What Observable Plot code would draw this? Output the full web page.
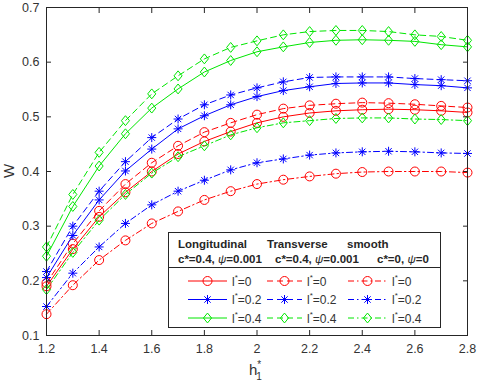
<!DOCTYPE html>
<html><head><meta charset="utf-8">
<script src="https://cdn.jsdelivr.net/npm/d3@7"></script>
<script src="https://cdn.jsdelivr.net/npm/@observablehq/plot@0.6"></script>
<style>body{margin:0;background:#fff;} svg{display:block;}</style>
</head><body><div id="chart"></div>
<script>
// ---- data ----
const hStar = [1.2,1.3,1.4,1.5,1.6,1.7,1.8,1.9,2.0,2.1,2.2,2.3,2.4,2.5,2.6,2.7,2.8];
const longitudinal_l0  = [0.190,0.258,0.317,0.362,0.400,0.432,0.455,0.473,0.489,0.500,0.507,0.511,0.513,0.514,0.513,0.511,0.508];
const transverse_l0    = [0.196,0.268,0.328,0.377,0.416,0.447,0.472,0.489,0.504,0.515,0.521,0.524,0.526,0.525,0.523,0.520,0.517];
const smooth_l0        = [0.139,0.192,0.238,0.274,0.305,0.327,0.348,0.364,0.377,0.385,0.391,0.396,0.399,0.400,0.400,0.400,0.398];
const longitudinal_l02 = [0.206,0.283,0.348,0.401,0.441,0.478,0.502,0.522,0.537,0.548,0.555,0.561,0.562,0.562,0.559,0.557,0.553];
const transverse_l02   = [0.217,0.300,0.364,0.418,0.462,0.496,0.522,0.540,0.553,0.564,0.572,0.573,0.573,0.573,0.570,0.568,0.566];
const smooth_l02       = [0.153,0.214,0.262,0.305,0.339,0.364,0.384,0.403,0.416,0.423,0.430,0.434,0.436,0.437,0.436,0.434,0.433];
const longitudinal_l04 = [0.245,0.336,0.410,0.469,0.516,0.551,0.582,0.603,0.619,0.628,0.636,0.640,0.641,0.640,0.638,0.632,0.628];
const transverse_l04   = [0.262,0.358,0.435,0.493,0.542,0.575,0.606,0.627,0.639,0.650,0.656,0.658,0.658,0.656,0.650,0.647,0.640];
const smooth_l04       = [0.184,0.252,0.311,0.358,0.397,0.427,0.447,0.467,0.480,0.489,0.493,0.497,0.498,0.498,0.496,0.495,0.493];

const xTicks = [1.2,1.4,1.6,1.8,2.0,2.2,2.4,2.6,2.8];
const xTickLabels = ["1.2","1.4","1.6","1.8","2","2.2","2.4","2.6","2.8"];
const yTicks = [0.1,0.2,0.3,0.4,0.5,0.6,0.7];
const yTickLabels = ["0.1","0.2","0.3","0.4","0.5","0.6","0.7"];
const lLabels = ["0","0.2","0.4"];
const headerNames = ["Longitudinal","Transverse","smooth"];
const headerParams = ["c*=0.4, ψ=0.001","c*=0.4, ψ=0.001","c*=0, ψ=0"];

// ---- styles ----
const colors = ["#ff0000","#0000ff","#00e600"];
const dashes = [null, "6,4", "6,3,1.5,3"];
const ink = "#262626";

const asterisk8 = {draw(ctx, size){ const r = Math.sqrt(size/Math.PI); const d = r*0.7071;
  ctx.moveTo(-r,0); ctx.lineTo(r,0); ctx.moveTo(0,-r); ctx.lineTo(0,r);
  ctx.moveTo(-d,-d); ctx.lineTo(d,d); ctx.moveTo(-d,d); ctx.lineTo(d,-d); }};
const diamondSq = {draw(ctx, size){ const r = Math.sqrt(size/Math.PI);
  ctx.moveTo(0,-r*1.1); ctx.lineTo(r*0.9,0); ctx.lineTo(0,r*1.1); ctx.lineTo(-r*0.9,0); ctx.closePath(); }};
const circleSym = {draw(ctx, size){ const r = Math.sqrt(size/Math.PI); ctx.moveTo(r,0); ctx.arc(0,0,r,0,2*Math.PI); }};
const symbols = [circleSym, asterisk8, diamondSq];

const seriesGrid = [
  [longitudinal_l0, transverse_l0, smooth_l0],
  [longitudinal_l02, transverse_l02, smooth_l02],
  [longitudinal_l04, transverse_l04, smooth_l04]
];

const marks = [];
seriesGrid.forEach((row, li) => {
  row.forEach((vals, si) => {
    const data = hStar.map((x, i) => ({x, y: vals[i]}));
    marks.push(Plot.line(data, {x: "x", y: "y", stroke: colors[li], strokeWidth: 1, strokeDasharray: dashes[si] || undefined}));
    marks.push(Plot.dot(data, {x: "x", y: "y", stroke: colors[li], fill: "none", strokeWidth: 1, r: 4.5, symbol: symbols[li]}));
  });
});

const chart = Plot.plot({
  width: 480, height: 386,
  marginLeft: 46, marginRight: 13, marginTop: 7, marginBottom: 51,
  x: {domain: [1.2, 2.8]},
  y: {domain: [0.1, 0.7]},
  style: {fontFamily: "'Liberation Sans', Arial, sans-serif", fontSize: "12.5px", color: ink, background: "white", overflow: "visible"},
  marks: [
    ...marks,
    Plot.frame({stroke: ink, strokeWidth: 1}),
    Plot.axisX(xTicks, {anchor: "bottom", tickSize: -5, tickPadding: 14, tickFormat: d => xTickLabels[xTicks.indexOf(d)], label: null, fill: "#333"}),
    Plot.axisX(xTicks, {anchor: "top", tickSize: -5, tickFormat: () => "", label: null}),
    Plot.axisY(yTicks, {anchor: "left", tickSize: -5, tickPadding: 12, tickFormat: d => yTickLabels[yTicks.findIndex(t => Math.abs(t-d) < 1e-9)], label: null, fill: "#333"}),
    Plot.axisY(yTicks, {anchor: "right", tickSize: -5, tickFormat: () => "", label: null})
  ]
});
document.getElementById("chart").appendChild(chart);

// ---- axis titles and legend (layout) ----
const svg = d3.select(chart);
const font = "'Liberation Sans', Arial, sans-serif";
svg.append("text").attr("transform","translate(14,171) rotate(-90)")
  .attr("text-anchor","middle").attr("font-family",font).attr("font-size",15).attr("fill","#333").text("W");
const xl = svg.append("text").attr("x",249).attr("y",375).attr("text-anchor","start").attr("font-family",font).attr("font-size",15).attr("fill","#333");
xl.append("tspan").text("h");
xl.append("tspan").attr("font-size",10).attr("dy",-7).text("*");
xl.append("tspan").attr("font-size",10).attr("dx",-5).attr("dy",12).text("1");

const lg = svg.append("g").attr("font-family", font).attr("fill", ink).attr("text-anchor","start");
lg.append("rect").attr("x",168.5).attr("y",232.5).attr("width",272).attr("height",95)
  .attr("fill","white").attr("stroke",ink).attr("stroke-width",1);
lg.append("line").attr("x1",168.5).attr("x2",440.5).attr("y1",267.5).attr("y2",267.5).attr("stroke",ink);
const hx = [178, 267, 347];
const px = [178, 275, 377];
headerNames.forEach((t,i) => lg.append("text").attr("x",hx[i]).attr("y",248).attr("font-size",11.5).attr("font-weight","bold").text(t));
headerParams.forEach((t,i) => {
  const parts = t.split("ψ");
  const tx = lg.append("text").attr("x",px[i]).attr("y",263).attr("font-size",11.5).attr("font-weight","bold");
  tx.append("tspan").text(parts[0]);
  tx.append("tspan").attr("font-style","italic").attr("font-weight","normal").text("ψ");
  tx.append("tspan").text(parts[1]);
});
const colLine = [[188,227],[267,302],[348,387]];
const colText = [232, 307, 392];
const rowY = [281, 299.5, 318];
for (let li = 0; li < 3; li++) {
  for (let si = 0; si < 3; si++) {
    const [a,b] = colLine[si];
    const y = rowY[li];
    lg.append("line").attr("x1",a).attr("x2",b).attr("y1",y).attr("y2",y)
      .attr("stroke",colors[li]).attr("stroke-width",1).attr("stroke-dasharray",dashes[si]);
    lg.append("path").attr("transform",`translate(${(a+b)/2},${y})`)
      .attr("d", d3.symbol(symbols[li], Math.PI*4.5*4.5)()).attr("fill","none").attr("stroke",colors[li]).attr("stroke-width",1);
    const t = lg.append("text").attr("x",colText[si]).attr("y",y+4.5).attr("font-size",12).attr("fill","#333");
    t.append("tspan").text("l");
    t.append("tspan").attr("font-size",8).attr("dy",-6).text("*");
    t.append("tspan").attr("dy",6).text("=" + lLabels[li]);
  }
}
</script>
</body></html>
